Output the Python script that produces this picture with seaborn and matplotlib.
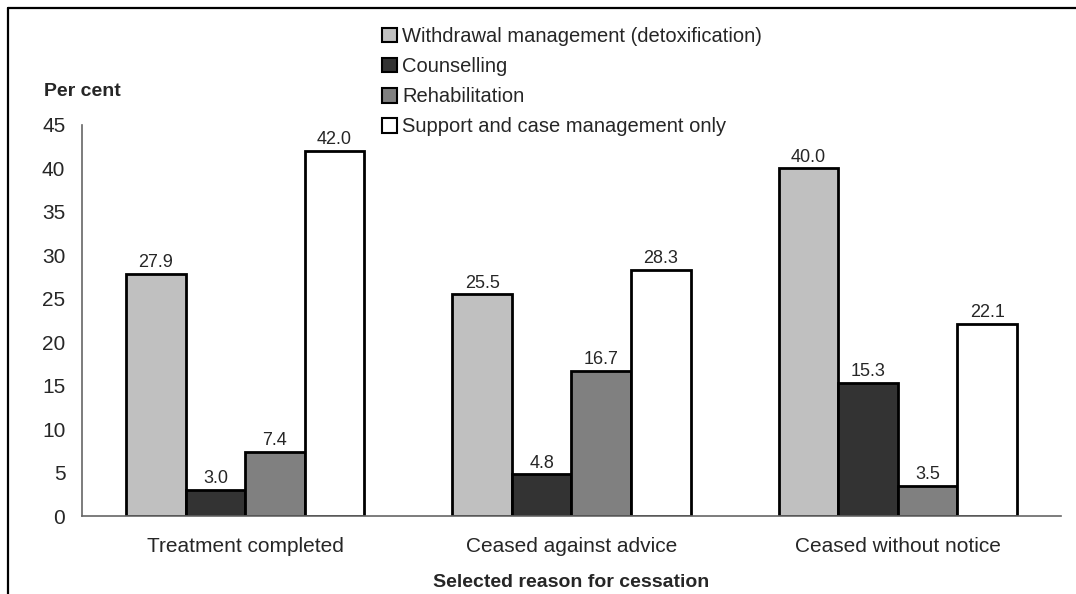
import pandas as pd
import matplotlib.pyplot as plt
import seaborn as sns
from matplotlib.lines import Line2D
from matplotlib.patches import Patch

reasons = ['Treatment completed', 'Ceased against advice', 'Ceased without notice']
treatments = ['Withdrawal management (detoxification)', 'Counselling',
              'Rehabilitation', 'Support and case management only']
withdrawal = [27.9, 25.5, 40.0]
counselling = [3.0, 4.8, 15.3]
rehabilitation = [7.4, 16.7, 3.5]
support = [42.0, 28.3, 22.1]
colours = ['#c0c0c0', '#333333', '#808080', '#ffffff']

rows = []
for series, name in zip([withdrawal, counselling, rehabilitation, support], treatments):
    for reason, value in zip(reasons, series):
        rows.append({'reason': reason, 'treatment': name, 'value': value})
df = pd.DataFrame(rows)

sns.set_style('white')
plt.rcParams['font.family'] = ['Liberation Sans', 'DejaVu Sans']

fig = plt.figure(figsize=(10.76, 5.94), dpi=100)
ax = fig.add_axes([0.0762, 0.1313, 0.9098, 0.6583])

sns.barplot(data=df, x='reason', y='value', hue='treatment', order=reasons,
            hue_order=treatments, palette=colours, width=0.73, gap=0,
            edgecolor='black', linewidth=2, saturation=1, legend=False, ax=ax)

for container in ax.containers:
    ax.bar_label(container, fmt='%.1f', padding=2, fontsize=13)

ax.set_ylim(0, 45)
ax.set_xlim(-0.5, 2.5)
ax.set_yticks(range(0, 50, 5))
ax.set_xticks([-0.5, 0.5, 1.5, 2.5], minor=True)
ax.tick_params(axis='x', which='major', length=0, labelsize=15, pad=15)
ax.tick_params(axis='x', which='minor', length=6, width=1, color='#555555', direction='out')
ax.tick_params(axis='y', length=6, width=1, color='#555555', direction='out', labelsize=15, pad=6)
ax.set_xlabel('Selected reason for cessation', fontsize=14, fontweight='bold', labelpad=13)
ax.set_ylabel('')
for side in ['top', 'right']:
    ax.spines[side].set_visible(False)
for side in ['left', 'bottom']:
    ax.spines[side].set_color('#666666')
    ax.spines[side].set_linewidth(1.2)

fig.text(44 / 1076, 1 - 92 / 594, 'Per cent', fontsize=14, fontweight='bold', va='center')

handles = [Patch(facecolor=c, edgecolor='black', linewidth=1.5) for c in colours]
fig.legend(handles, treatments, loc='upper left', bbox_to_anchor=(382 / 1076, 1 - 27 / 594),
           frameon=False, fontsize=14.5, handlelength=0.75, handleheight=0.75,
           handletextpad=0.25, labelspacing=0.55, borderpad=0, borderaxespad=0)

# partial border around the chart
fig.add_artist(Line2D([8 / 1076, 8 / 1076], [0, 1 - 8 / 594], transform=fig.transFigure,
                      color='black', linewidth=1.6))
fig.add_artist(Line2D([8 / 1076, 1], [1 - 8 / 594, 1 - 8 / 594], transform=fig.transFigure,
                      color='black', linewidth=1.6))

fig.savefig('out.png', dpi=100)
